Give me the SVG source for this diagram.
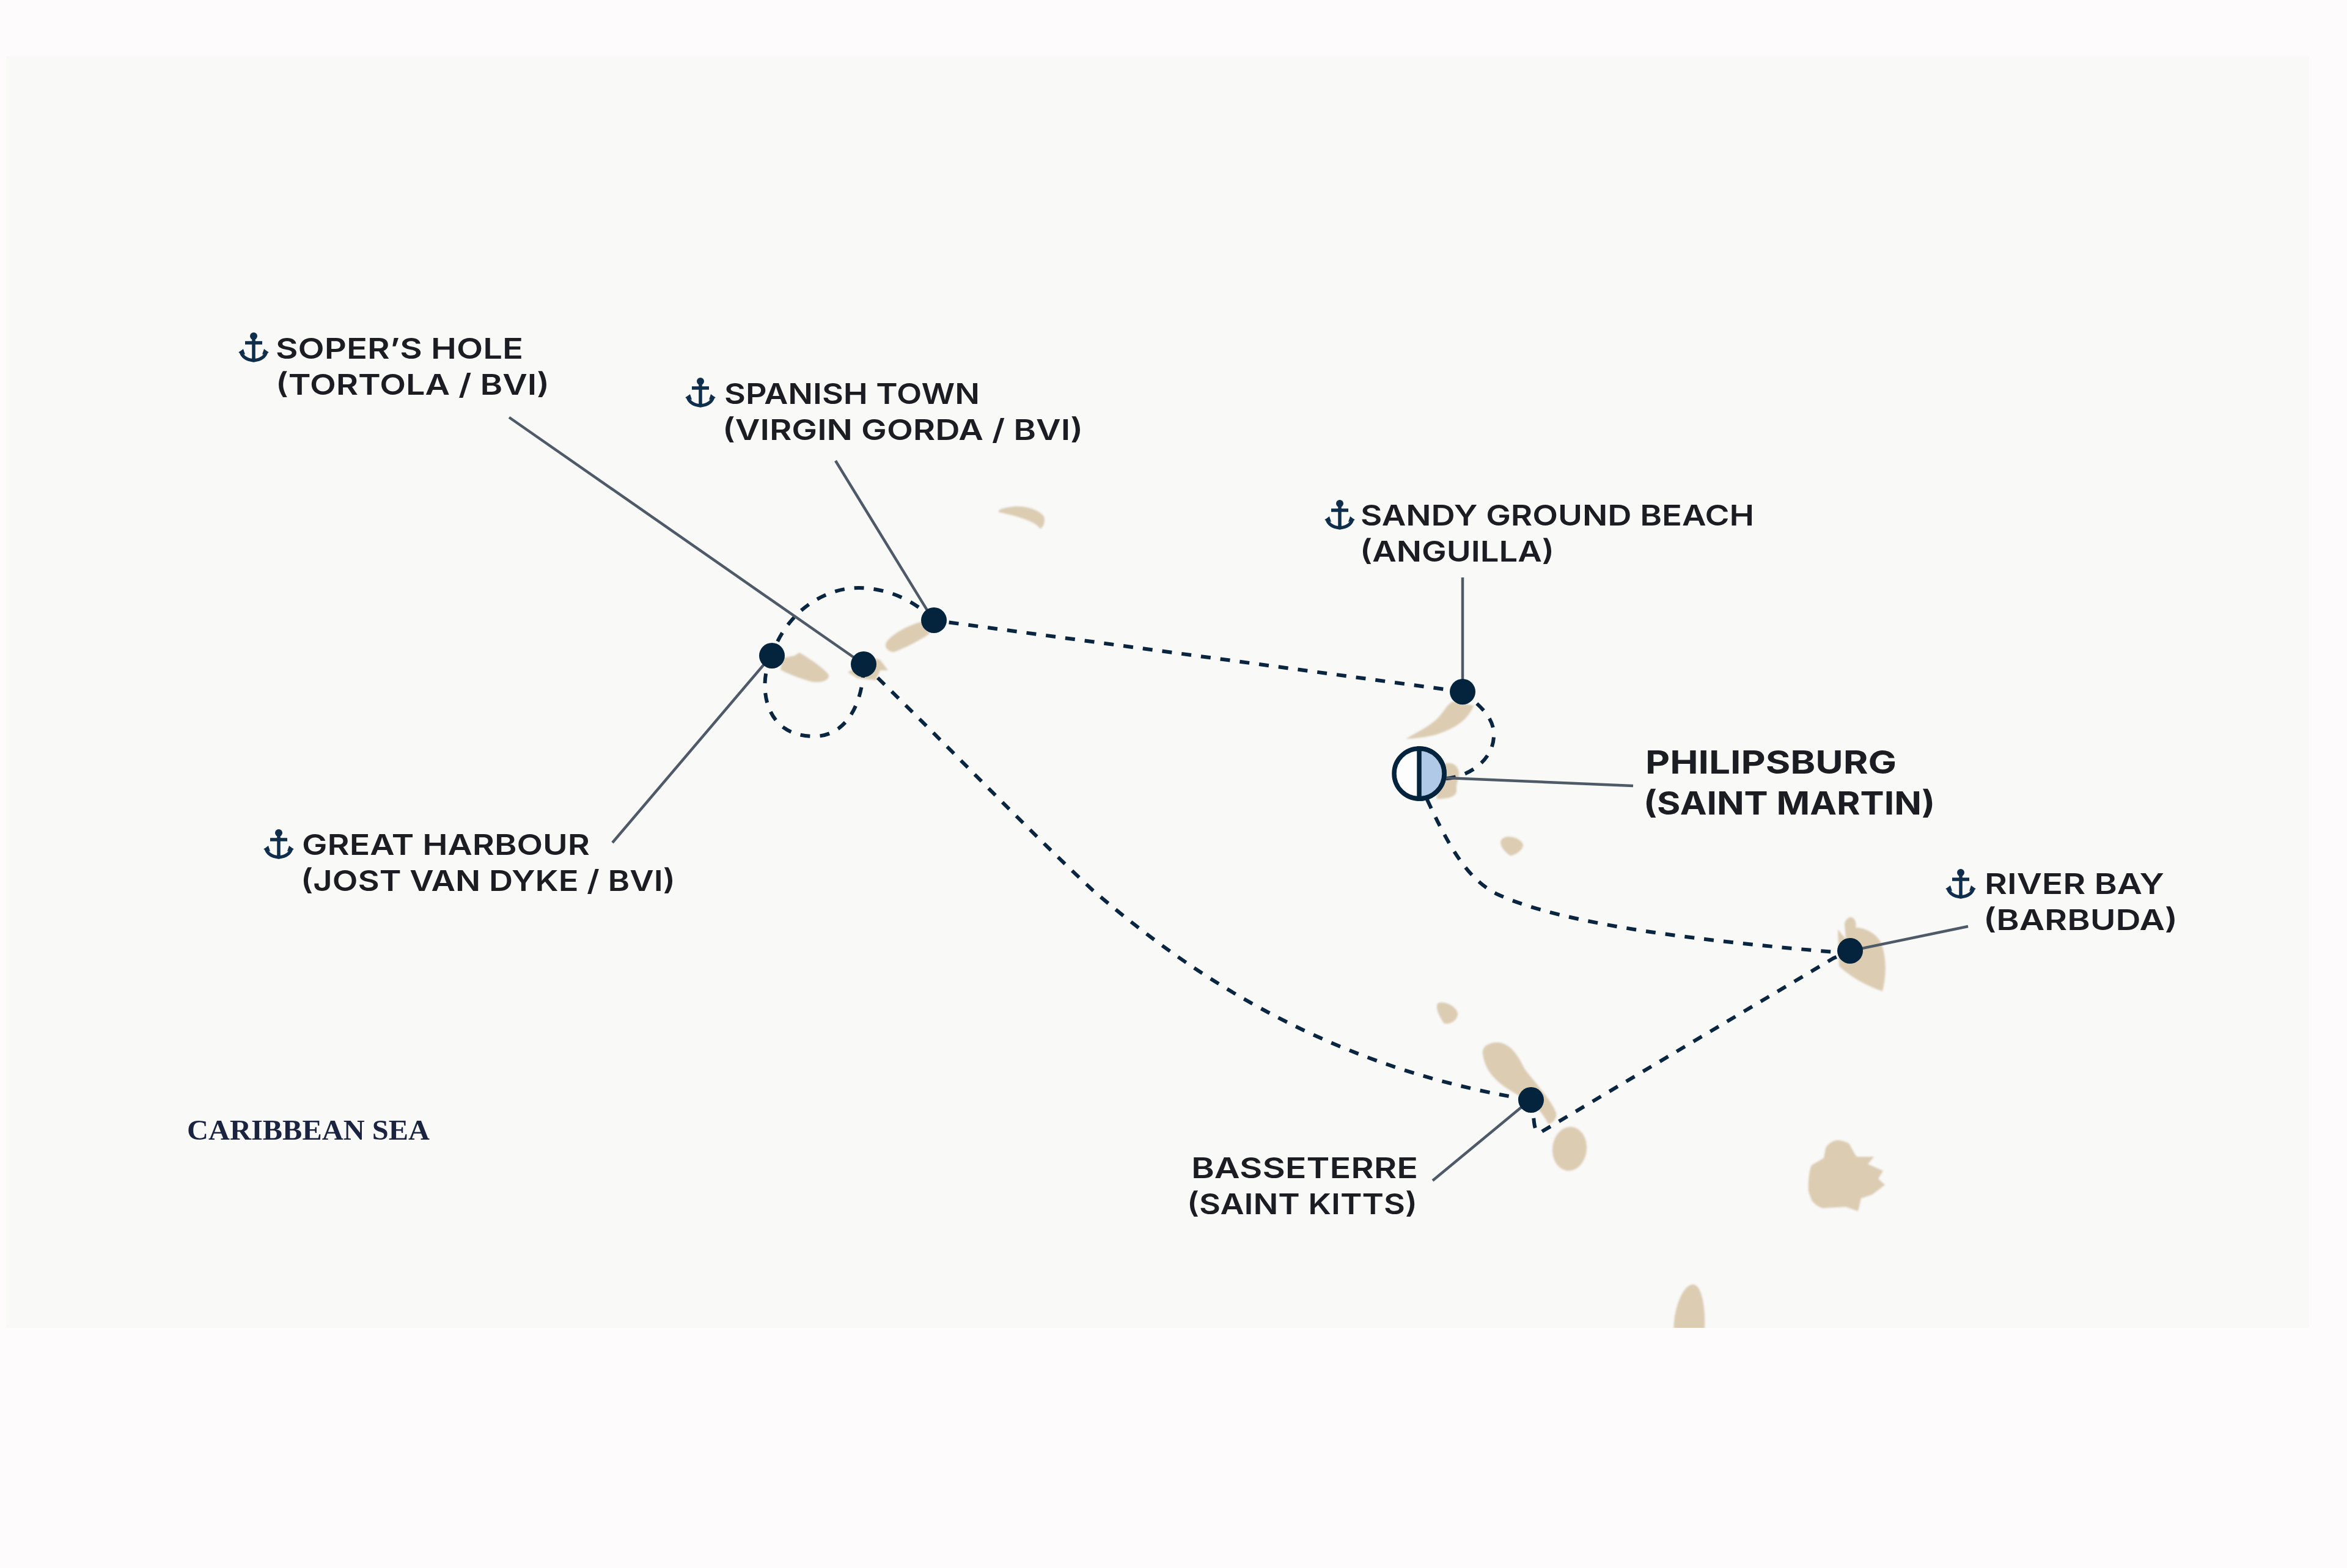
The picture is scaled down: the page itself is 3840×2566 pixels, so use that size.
<svg xmlns="http://www.w3.org/2000/svg" xmlns:xlink="http://www.w3.org/1999/xlink" width="3840" height="2566" viewBox="0 0 3840 2566">
<style>
.land{fill:#dbccb2}
.route{fill:none;stroke:#0a2540;stroke-width:6;stroke-dasharray:16 16}
.leader{fill:none;stroke:#4f5a68;stroke-width:4.5}
.dot{fill:#04233d}
.lab{font-family:"Inter","Liberation Sans",sans-serif;font-size:47px;font-weight:600;fill:#1c1d22}
.port{font-family:"Inter","Liberation Sans",sans-serif;font-size:52px;font-weight:700;fill:#1c1d22}
.sea{font-family:"Liberation Serif",serif;font-size:46px;font-weight:700;fill:#1a2340}
.anc{fill:none;stroke:#0f2e4c;stroke-width:5.5}
</style>
<defs>
<g id="anchor">
<circle cx="0" cy="-18" r="6" fill="#0f2e4c"/>
<path class="anc" d="M0 -18V22M-14 -7H14M-21 7Q-18 20 0 22Q18 20 21 7"/>
<path fill="#0f2e4c" d="M-25 9L-17 3L-14 12ZM25 9L17 3L14 12Z"/>
</g>
<filter id="soft" x="-5%" y="-5%" width="110%" height="110%"><feGaussianBlur stdDeviation="1.6"/></filter>
<clipPath id="panel"><rect x="10" y="92" width="3768" height="2081"/></clipPath>
</defs>
<rect width="3840" height="2566" fill="#fdfbfb"/>
<rect x="10" y="92" width="3768" height="2081" fill="#f9f9f8"/>
<g id="land" clip-path="url(#panel)"><g filter="url(#soft)">
<path class="land" d="M1634 835C1655 825 1692 826 1708 845C1711 856 1706 864 1702 865C1692 852 1665 845 1634 838Z"/>
<path class="land" d="M1280 1077L1300 1073L1308 1068C1325 1078 1350 1095 1356 1105C1356 1116 1340 1117 1330 1116C1310 1111 1290 1103 1277 1096Z"/>
<path class="land" d="M1387 1100L1403 1110L1433 1113L1440 1097L1453 1097L1440 1080L1430 1077Z"/>
<path class="land" d="M1449 1055C1451 1041 1490 1021 1510 1017L1521 1037C1500 1051 1475 1063 1462 1067C1455 1067 1448 1061 1449 1055Z"/>
<path class="land" d="M2300 1209C2325 1195 2345 1185 2357 1170C2365 1160 2370 1150 2378 1148C2390 1152 2405 1152 2411 1155C2402 1177 2382 1192 2350 1202C2335 1206 2315 1209 2300 1209Z"/>
<path class="land" d="M2363 1250C2375 1246 2386 1252 2387 1265C2387 1275 2382 1280 2383 1295C2382 1305 2365 1308 2350 1307Z"/>
<path class="land" d="M2456 1375C2462 1364 2488 1370 2492 1382C2492 1392 2478 1400 2471 1400C2464 1396 2452 1384 2456 1375Z"/>
<path class="land" d="M2352 1642C2362 1636 2386 1648 2385 1660C2384 1672 2368 1678 2362 1674C2356 1664 2348 1652 2352 1642Z"/>
<path class="land" d="M3018 1513C3018 1506 3024 1501 3028 1501C3035 1502 3038 1510 3036 1518C3052 1518 3070 1528 3077 1542C3085 1560 3088 1590 3080 1622C3060 1616 3030 1601 3009 1581L3007 1521L3020 1537Z"/>
<path class="land" d="M2426 1725C2424 1710 2440 1705 2452 1706C2472 1708 2484 1728 2495 1750C2510 1770 2538 1800 2546 1821C2548 1830 2540 1839 2533 1839C2526 1825 2518 1815 2505 1805C2475 1785 2432 1770 2426 1725Z"/>
<ellipse class="land" cx="2568" cy="1880" rx="28" ry="36" transform="rotate(6 2568 1880)"/>
<path class="land" d="M2959 1950C2958 1935 2960 1915 2964 1907L2984 1895L2987 1879C2992 1870 3000 1866 3007 1866C3016 1866 3022 1870 3025 1871C3030 1880 3034 1888 3038 1893L3066 1893L3056 1905L3081 1916L3073 1929L3084 1939L3063 1955L3045 1961L3040 1982L3020 1975L2982 1977C2975 1975 2968 1970 2964 1964Z"/>
<path class="land" d="M2739 2185C2735 2150 2752 2102 2770 2102C2786 2102 2792 2150 2788 2185Z"/>
</g></g>
<g id="connectors">
<path class="route" d="M2366 1274C2400 1272 2446 1245 2444 1200C2443 1170 2415 1150 2393 1132"/>
<path class="route" d="M2393 1132L1527 1015"/>
<path class="route" d="M1527 1015C1490 975 1440 962 1405 962C1345 962 1285 1005 1263 1072"/>
<path class="route" d="M1263 1072C1240 1115 1246 1205 1332 1205C1385 1205 1413 1150 1413 1087"/>
<path class="route" d="M1413 1087C1538 1207 1663 1340 1788 1457C1920 1570 2150 1745 2505 1800"/>
<path class="route" d="M2506 1798L2510 1837Q2513 1860 2524 1851L3000 1568L3027 1556"/>
<path class="route" d="M3027 1556L3000 1558C2800 1541 2560 1515 2449 1463C2400 1438 2370 1385 2331 1300"/>
<path class="leader" d="M833 683L1413 1087"/>
<path class="leader" d="M1367 754L1527 1015"/>
<path class="leader" d="M1002 1379L1263 1072"/>
<path class="leader" d="M2393 945V1132"/>
<path class="leader" d="M2366 1273L2672 1286"/>
<path class="leader" d="M3220 1516L3027 1556"/>
<path class="leader" d="M2344 1932L2506 1798"/>
</g>
<g id="sopers-hole">
<circle class="dot" cx="1413" cy="1087" r="21"/>
<use xlink:href="#anchor" href="#anchor" x="415" y="568"/>
<text class="lab" x="451" y="587" textLength="405" lengthAdjust="spacingAndGlyphs">SOPER’S HOLE</text>
<text class="lab" x="451" y="646" textLength="448" lengthAdjust="spacingAndGlyphs">(TORTOLA / BVI)</text>
</g>
<g id="spanish-town">
<circle class="dot" cx="1528" cy="1015" r="21"/>
<use xlink:href="#anchor" href="#anchor" x="1146" y="642"/>
<text class="lab" x="1185" y="661" textLength="418" lengthAdjust="spacingAndGlyphs">SPANISH TOWN</text>
<text class="lab" x="1182" y="720" textLength="590" lengthAdjust="spacingAndGlyphs">(VIRGIN GORDA / BVI)</text>
</g>
<g id="great-harbour">
<circle class="dot" cx="1263" cy="1073" r="21"/>
<use xlink:href="#anchor" href="#anchor" x="456" y="1381"/>
<text class="lab" x="494" y="1399" textLength="471" lengthAdjust="spacingAndGlyphs">GREAT HARBOUR</text>
<text class="lab" x="492" y="1458" textLength="613" lengthAdjust="spacingAndGlyphs">(JOST VAN DYKE / BVI)</text>
</g>
<g id="sandy-ground-beach">
<circle class="dot" cx="2393" cy="1132" r="21"/>
<use xlink:href="#anchor" href="#anchor" x="2192" y="842"/>
<text class="lab" x="2226" y="860" textLength="644" lengthAdjust="spacingAndGlyphs">SANDY GROUND BEACH</text>
<text class="lab" x="2225" y="919" textLength="318" lengthAdjust="spacingAndGlyphs">(ANGUILLA)</text>
</g>
<g id="philipsburg">
<circle cx="2322" cy="1266" r="41" fill="#fdfdfd" stroke="#04233d" stroke-width="7.5"/>
<path d="M2322 1225A41 41 0 0 1 2322 1307Z" fill="#b0c9e6" stroke="#04233d" stroke-width="7.5"/>
<text class="port" x="2692" y="1266" textLength="411" lengthAdjust="spacingAndGlyphs">PHILIPSBURG</text>
<text class="port" x="2689" y="1333" textLength="477" lengthAdjust="spacingAndGlyphs">(SAINT MARTIN)</text>
</g>
<g id="river-bay">
<circle class="dot" cx="3027" cy="1556" r="21"/>
<use xlink:href="#anchor" href="#anchor" x="3208" y="1446"/>
<text class="lab" x="3247" y="1463" textLength="294" lengthAdjust="spacingAndGlyphs">RIVER BAY</text>
<text class="lab" x="3245" y="1522" textLength="318" lengthAdjust="spacingAndGlyphs">(BARBUDA)</text>
</g>
<g id="basseterre">
<circle class="dot" cx="2505" cy="1800" r="21"/>
<text class="lab" x="1949" y="1928" textLength="371" lengthAdjust="spacingAndGlyphs">BASSETERRE</text>
<text class="lab" x="1942" y="1987" textLength="377" lengthAdjust="spacingAndGlyphs">(SAINT KITTS)</text>
</g>
<text class="sea" id="caribbean-sea" x="306" y="1865" textLength="397" lengthAdjust="spacingAndGlyphs">CARIBBEAN SEA</text>
</svg>
